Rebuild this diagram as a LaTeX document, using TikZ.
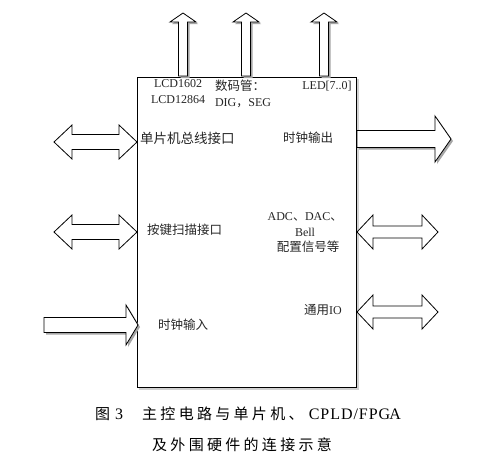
\documentclass[tikz,border=0pt]{standalone}
\usepackage{fontspec}
\setmainfont{Liberation Serif}
\newfontfamily\cjk{Noto Sans CJK SC}
\newfontfamily\capcjk{Noto Sans CJK SC}[LetterSpace=22]
\newfontfamily\caplat{Liberation Serif}[LetterSpace=6]
\newcommand\upArr[2]{%
  \begin{scope}[shift={(#1,0)}]
    \fill[shd] (-2.5,78) -- (-2.5,24) -- (-11,24) -- (2,15) -- (15,24) -- (6.5,24) -- (6.5,78) -- cycle;
    \draw[blk] (-4.5,76) -- (-4.5,22) -- (-13,22) -- (0,13) -- (13,22) -- (4.5,22) -- (4.5,76) -- cycle;
    \coordinate (#2) at (0,13);
  \end{scope}}
% double horizontal arrow: x1, x2, yc, head length, head half, shaft half
\newcommand\dblArr[6]{%
  \draw[blk] (#1,#3) -- ({#1+#4},{#3-#5}) -- ({#1+#4},{#3-#6}) -- ({#2-#4},{#3-#6}) -- ({#2-#4},{#3-#5})
    -- (#2,#3) -- ({#2-#4},{#3+#5}) -- ({#2-#4},{#3+#6}) -- ({#1+#4},{#3+#6}) -- ({#1+#4},{#3+#5}) -- cycle;}
% single right arrow with shadow: x1, x2, yc, head length, head half, shaft half
\newcommand\rArr[6]{%
  \fill[shd] ({#1+2},{#3-#6+2}) -- ({#2-#4+2},{#3-#6+2}) -- ({#2-#4+2},{#3-#5+2}) -- ({#2+2},{#3+2})
    -- ({#2-#4+2},{#3+#5+2}) -- ({#2-#4+2},{#3+#6+2}) -- ({#1+2},{#3+#6+2}) -- cycle;
  \draw[blk] (#1,{#3-#6}) -- ({#2-#4},{#3-#6}) -- ({#2-#4},{#3-#5}) -- (#2,#3)
    -- ({#2-#4},{#3+#5}) -- ({#2-#4},{#3+#6}) -- (#1,{#3+#6}) -- cycle;}
\begin{document}
\begin{tikzpicture}[x=1pt,y=-1pt,
  lbl/.style={font=\fontsize{12}{14}\selectfont, inner sep=0pt, text=black!85},
  clbl/.style={font=\fontsize{12.5}{14}\selectfont\cjk, inner sep=0pt, text=black!85},
  captxt/.style={font=\fontsize{15}{17}\selectfont, inner sep=0pt, text=black},
  blk/.style={draw=black, fill=white, line width=0.8pt, line join=miter},
  shd/.style={fill=black!35, draw=none}]
\useasboundingbox (0,0) rectangle (486,461);
\fill[white] (0,0) rectangle (486,461);

% main box with light shadow
\fill[black!18] (139,79) rectangle (359,390);
\node[draw=black, fill=white, line width=0.8pt, minimum width=219pt, minimum height=310pt, inner sep=0pt] (box) at (246.5,232) {};

% upward arrows
\upArr{183}{u1}
\upArr{246}{u2}
\upArr{324}{u3}

% left double arrows
\dblArr{54}{137}{142}{18}{17}{7.5}
\dblArr{54}{137}{232}{18}{17}{7.5}
% right double arrows
\dblArr{357}{438}{232}{16}{17}{6}
\dblArr{357}{438}{312}{16}{17}{6}
% clock output / input
\rArr{357}{451}{139}{16}{23}{8.5}
\rArr{44}{138}{325}{12}{20}{7.5}

% labels
\node[lbl] (lcda) at (178,84) {LCD1602};
\node[lbl] (lcdb) at (178,100) {LCD12864};
\node[clbl] (smg) at (240,86) {数码管：};
\node[lbl] (dig) at (243,103) {DIG{\cjk ，}SEG};
\node[lbl] (led) at (327,86) {LED[7..0]};
\node[clbl, anchor=west, font=\fontsize{13.5}{15}\selectfont\cjk] (bus) at (140,138) {单片机总线接口};
\node[clbl, anchor=west] (key) at (147,230) {按键扫描接口};
\node[clbl, anchor=west] (clko) at (283,138) {时钟输出};
\node[lbl] (adc) at (305,217) {ADC{\cjk 、}DAC{\cjk 、}};
\node[lbl] (bell) at (305,232) {Bell};
\node[clbl] (cfg) at (308,247) {配置信号等};
\node[lbl, anchor=west] (gio) at (304,310) {{\cjk\fontsize{12.5}{14}\selectfont 通用}IO};
\node[clbl, anchor=west] (clki) at (158,325) {时钟输入};

% caption
\node[captxt, anchor=west] (c0) at (95,414) {{\cjk 图}\hspace{5pt}{\fontsize{16}{17}\selectfont 3}};
\node[captxt, anchor=west] (c1) at (142,414) {\capcjk 主控电路与单片机、};
\node[captxt, anchor=east] (c2) at (401,414) {\fontsize{16}{17}\selectfont\caplat CPLD/FPG\kern-1pt A};
\node[captxt, anchor=west] (c3) at (152,445) {\capcjk 及外围硬件的连接示意};
\end{tikzpicture}
\end{document}
